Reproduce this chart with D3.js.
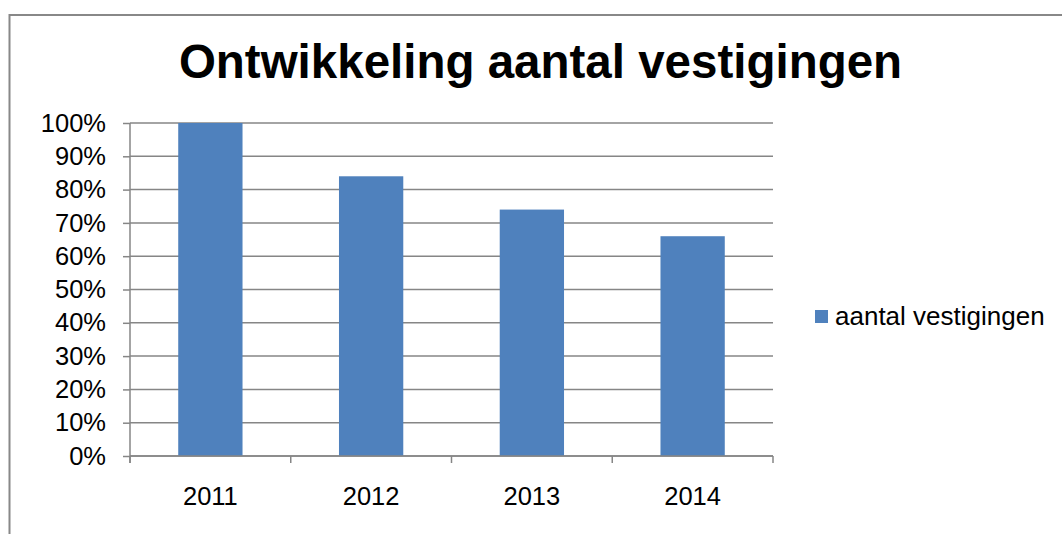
<!DOCTYPE html>
<html>
<head>
<meta charset="utf-8">
<script src="https://cdn.jsdelivr.net/npm/d3@7"></script>
<style>
body { margin: 0; background: #fff; }
svg { display: block; font-family: "Liberation Sans", Arial, sans-serif; }
</style>
</head>
<body>
<svg width="1062" height="534"></svg>
<script>
var years = ["2011", "2012", "2013", "2014"];
var values = [100, 84, 74, 66];
var yTicks = [0, 10, 20, 30, 40, 50, 60, 70, 80, 90, 100];
var seriesName = "aantal vestigingen";
var title = "Ontwikkeling aantal vestigingen";

var svg = d3.select("svg");
var margin = {top: 123, left: 130};
var width = 643, height = 333;
var gridColor = "#868686";

// outer frame (cut off at right and bottom)
svg.append("rect")
  .attr("x", 9.5).attr("y", 15)
  .attr("width", 1100).attr("height", 600)
  .attr("fill", "none")
  .attr("stroke", "#888").attr("stroke-width", 2);

svg.append("text")
  .attr("x", 540.5).attr("y", 78)
  .attr("text-anchor", "middle")
  .style("font-size", "47.5px").style("font-weight", "bold")
  .text(title);

var g = svg.append("g").attr("transform", "translate(" + margin.left + "," + margin.top + ")");

var xScale = d3.scaleBand().domain(years).range([0, width]).paddingInner(0.6).paddingOuter(0.3);
var yScale = d3.scaleLinear().domain([0, 100]).range([height, 0]);

// gridlines
g.selectAll(".grid").data(yTicks).enter().append("line")
  .attr("x1", 0).attr("x2", width)
  .attr("y1", function(d) { return yScale(d); })
  .attr("y2", function(d) { return yScale(d); })
  .attr("stroke", gridColor).attr("stroke-width", 1.5);

g.selectAll(".bar").data(values).enter().append("rect")
  .attr("x", function(d, i) { return xScale(years[i]); })
  .attr("y", function(d) { return yScale(d); })
  .attr("width", xScale.bandwidth())
  .attr("height", function(d) { return height - yScale(d); })
  .attr("fill", "#4F81BD");

var yAxis = d3.axisLeft(yScale).tickValues(yTicks).tickSize(7).tickPadding(17)
  .tickFormat(function(d) { return d + "%"; });
var yg = g.append("g").call(yAxis);
yg.select(".domain").attr("stroke", gridColor).attr("stroke-width", 1.5).attr("d", "M0,0V" + (height + 7));
yg.selectAll(".tick line").attr("stroke", gridColor).attr("stroke-width", 1.5);
yg.selectAll(".tick text").style("font-size", "25.5px").attr("fill", "#000").attr("font-family", null);

// category boundary ticks
var step = xScale.step();
g.selectAll(".xtick").data(d3.range(years.length + 1)).enter().append("line")
  .attr("x1", function(d) { return d * step; })
  .attr("x2", function(d) { return d * step; })
  .attr("y1", height).attr("y2", height + 7)
  .attr("stroke", gridColor).attr("stroke-width", 1.5);
g.append("line").attr("x1", 0).attr("x2", width).attr("y1", height).attr("y2", height)
  .attr("stroke", gridColor).attr("stroke-width", 1.5);

g.selectAll(".xlab").data(years).enter().append("text")
  .attr("x", function(d) { return xScale(d) + xScale.bandwidth() / 2; })
  .attr("y", height + 49)
  .attr("text-anchor", "middle")
  .style("font-size", "25.5px")
  .text(function(d) { return d; });

// legend
svg.append("rect").attr("x", 815).attr("y", 310).attr("width", 13).attr("height", 13).attr("fill", "#4F81BD");
svg.append("text").attr("x", 835).attr("y", 325).style("font-size", "26px").text(seriesName);
</script>
</body>
</html>
